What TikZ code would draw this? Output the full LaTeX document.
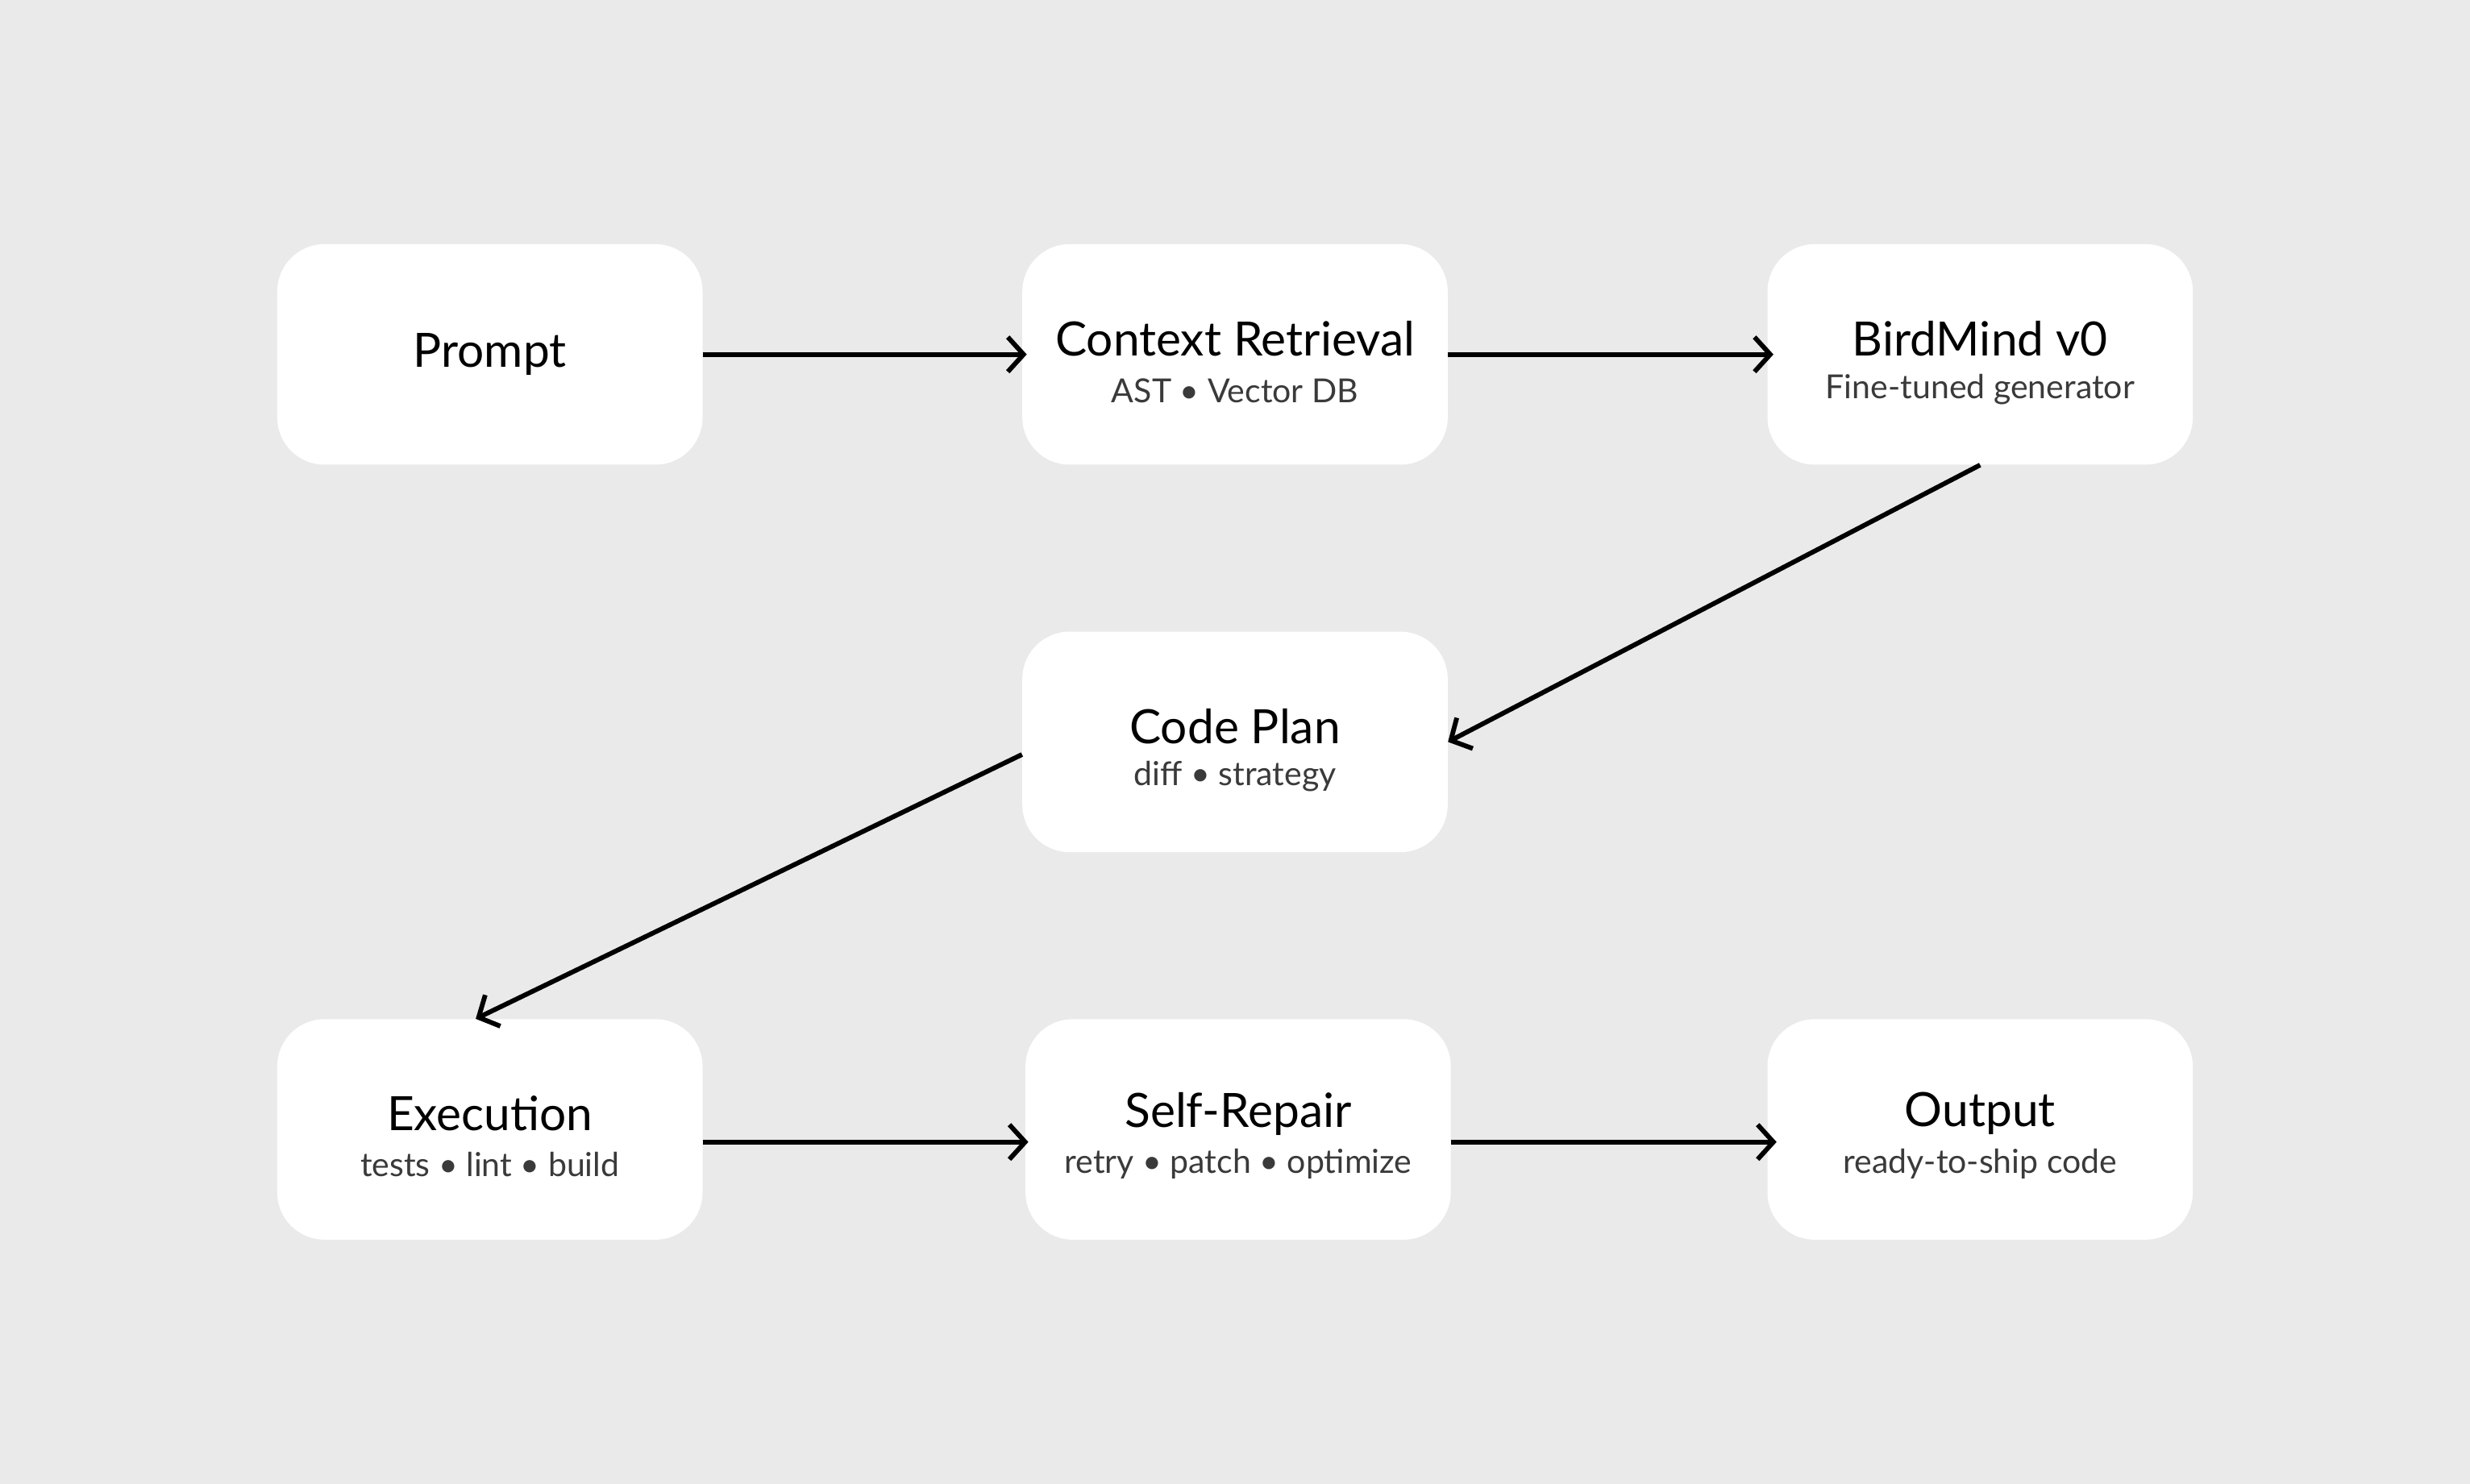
\documentclass[tikz,border=0pt]{standalone}
\usepackage{fontspec}
\setmainfont{Lato}
\usetikzlibrary{arrows.meta}
\definecolor{bg}{HTML}{EAEAEA}
\definecolor{sub}{HTML}{3A3A3A}
\begin{document}
\begin{tikzpicture}[x=1pt,y=-1pt,
  box/.style={fill=white,draw=none,rounded corners=30pt,minimum width=270pt,minimum height=140pt,inner sep=0pt},
  ttl/.style={font=\fontsize{30}{34}\selectfont,text=black},
  sb/.style={font=\fontsize{21}{24}\selectfont,text=sub},
  arr/.style={line width=3pt,-{Straight Barb[length=10pt,width=22pt,line width=3pt]}}]
\fill[bg] (0,0) rectangle (1568,942);
\useasboundingbox (0,0) rectangle (1568,942);
\node[box] (prompt) at (311,225) {};
\node[box] (ctx) at (784,225) {};
\node[box] (bird) at (1257,225) {};
\node[box] (plan) at (784,471) {};
\node[box] (exec) at (311,717) {};
\node[box] (rep) at (786,717) {};
\node[box] (out) at (1257,717) {};
\node[ttl] (t1) at (311,225) {Prompt};
\node[ttl] (t2) at (784,215) {Context Retrieval};
\node[sb] (s2) at (784,248) {AST • Vector DB};
\node[ttl] (t3) at (1257,215) {BirdMind v0};
\node[sb] (s3) at (1257,247) {Fine-tuned generator};
\node[ttl] (t4) at (784,461) {Code Plan};
\node[sb] (s4) at (784,493) {diff • strategy};
\node[ttl] (t5) at (311,707) {Execution};
\node[sb] (s5) at (311,739) {tests • lint • build};
\node[ttl] (t6) at (786,707) {Self-Repair};
\node[sb] (s6) at (786,739) {retry • patch • optimize};
\node[ttl] (t7) at (1257,707) {Output};
\node[sb] (s7) at (1257,739) {ready-to-ship code};
\draw[arr] (prompt.east) -- ([xshift=3]ctx.west);
\draw[arr] (ctx.east) -- ([xshift=4]bird.west);
\draw[arr] (bird.south) -- (plan.east);
\draw[arr] ([yshift=-8]plan.west) -- ([xshift=-9]exec.north);
\draw[arr] ([yshift=-8]exec.east) -- ([yshift=-8,xshift=2]rep.west);
\draw[arr] ([yshift=-8]rep.east) -- ([yshift=-8,xshift=6]out.west);
\end{tikzpicture}
\end{document}
